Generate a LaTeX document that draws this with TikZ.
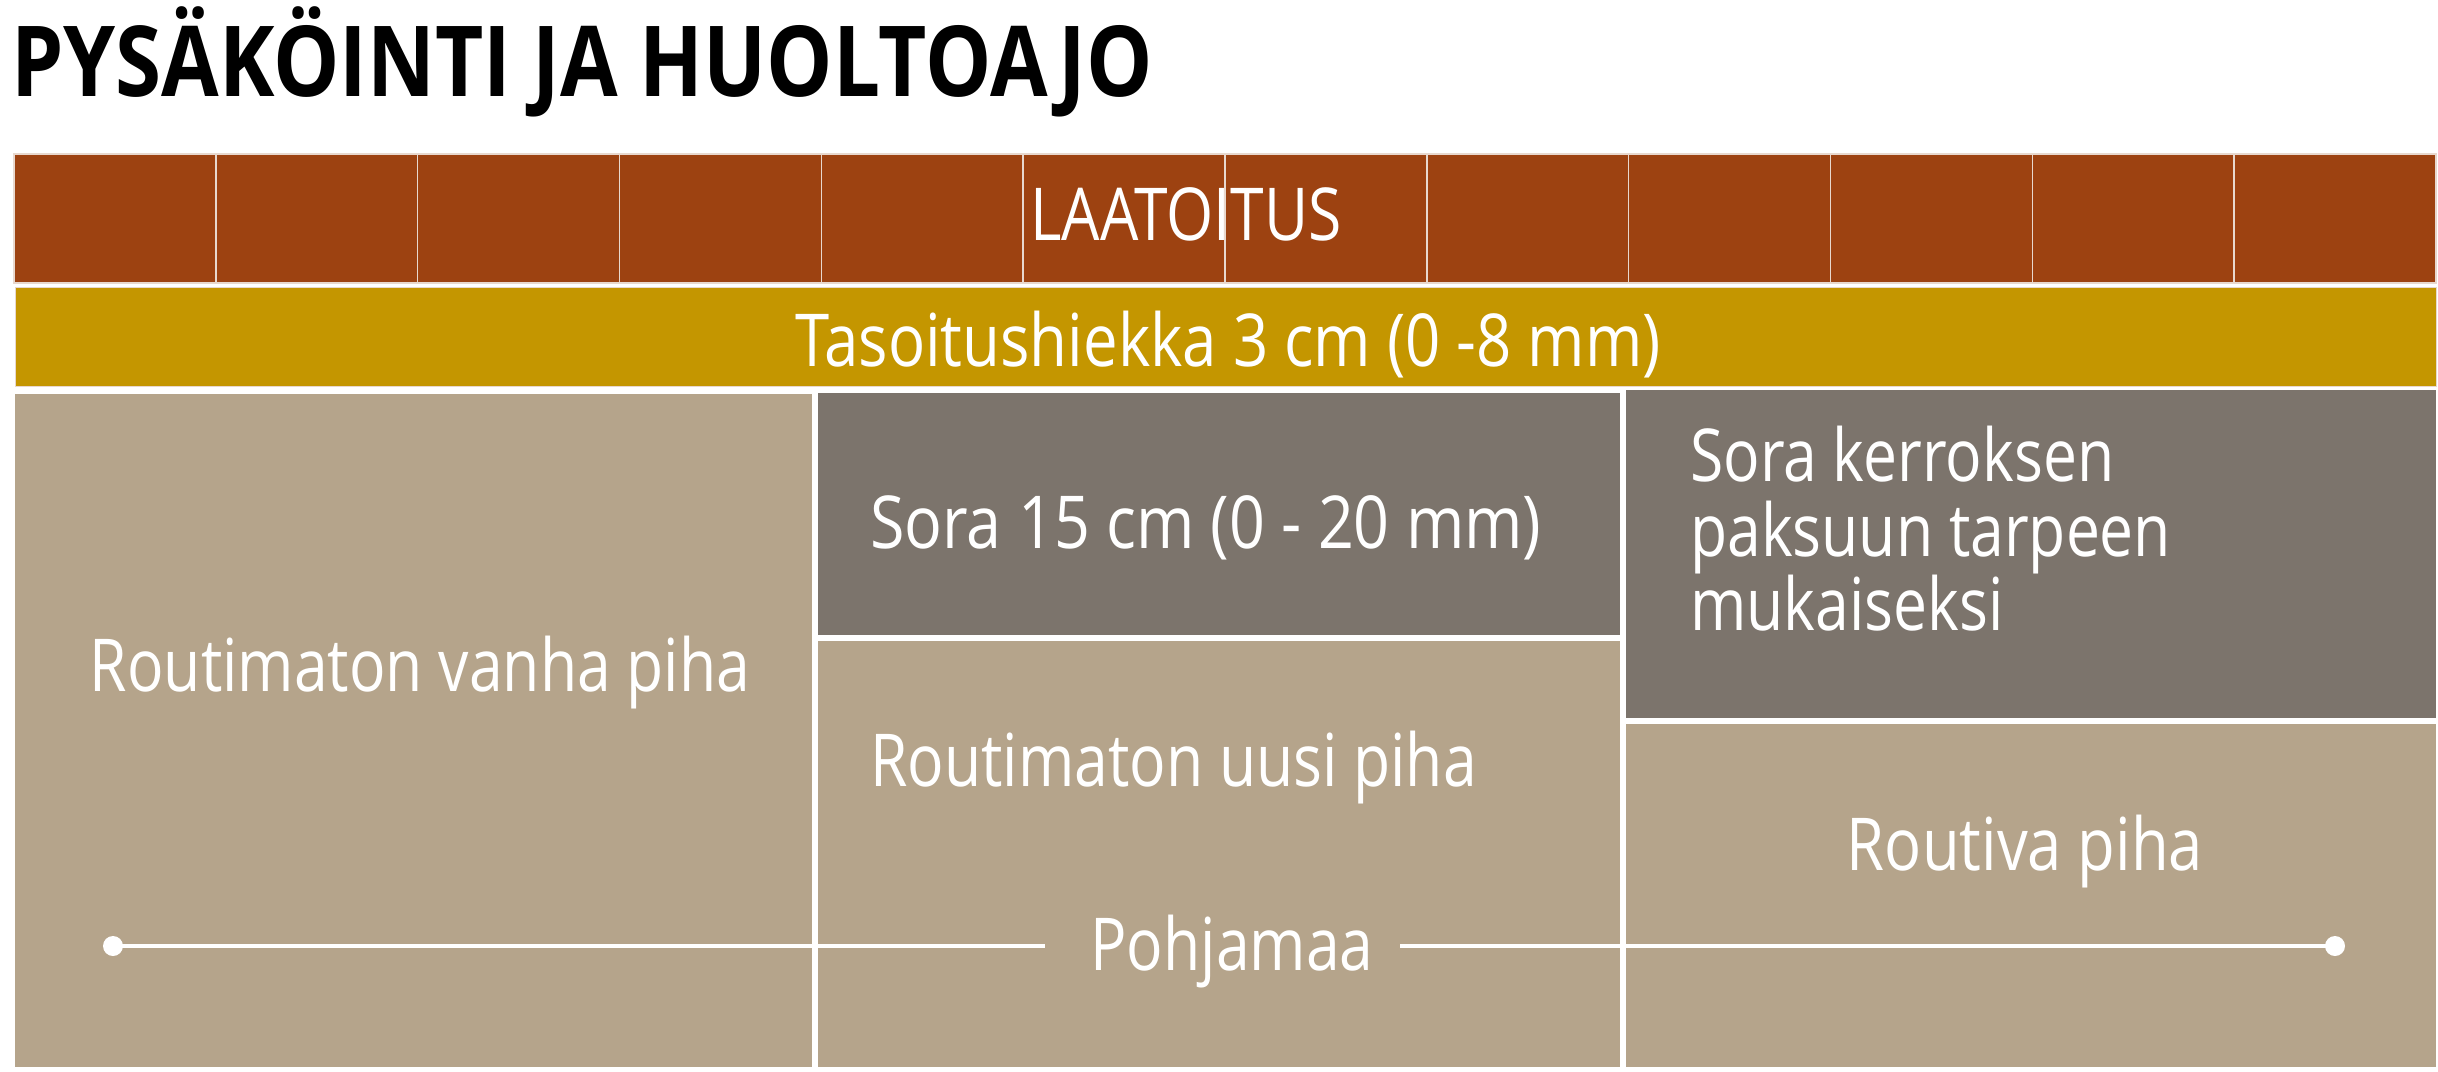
\documentclass[tikz,border=0pt]{standalone}
\usepackage{fontspec}
\setmainfont{Open Sans}[FakeStretch=0.83]
\newfontfamily\titlefont{Open Sans}[FakeStretch=0.852]
\definecolor{brick}{HTML}{9D4211}
\definecolor{sand}{HTML}{C49600}
\definecolor{stone}{HTML}{7C746C}
\definecolor{clay}{HTML}{B5A48B}
\definecolor{seam}{HTML}{E8D8CE}
\begin{document}
\begin{tikzpicture}[x=1pt,y=-1pt,
  lbl/.style={text=white,font=\fontsize{73}{75}\selectfont,inner sep=0pt},
  tile/.style={fill=brick,draw=seam,line width=1.5pt},
  ground/.style={draw=white,line width=3.5pt},
  dot/.style={circle,fill=white,inner sep=0pt,minimum size=20pt}]
\useasboundingbox[fill=white] (0,0) rectangle (2438,1071);
% title
\node[anchor=base west,inner sep=0pt,font=\fontsize{98}{100}\titlefont\bfseries] (title) at (11,96) {PYSÄKÖINTI JA HUOLTOAJO};
% tiles
\foreach \i in {0,...,11}{
  \path[tile] ({14+201.83*\i},154) rectangle ({14+201.83*(\i+1)},283);
}
\node[lbl,anchor=base] (laatoitus) at (1186,240) {LAATOITUS};
% levelling sand
\path[fill=sand,draw=seam,line width=1pt] (15.5,287) rectangle (2436,386.5);
\node[lbl,anchor=base] (sand) at (1228,366) {\scalebox{1.018}[1]{Tasoitushiekka 3 cm (0 -8 mm)}};
% lower blocks
\fill[clay] (15,394) rectangle (812.3,1067);
\fill[stone] (817.7,393) rectangle (1620.3,635);
\fill[clay] (817.7,640.7) rectangle (1620.3,1067);
\fill[stone] (1625.7,390) rectangle (2436,717.7);
\fill[clay] (1625.7,724.3) rectangle (2436,1067);
\node[lbl,anchor=base] (old) at (420,691) {Routimaton vanha piha};
\node[lbl,anchor=base west] (gravel) at (870,548) {\scalebox{1.036}[1]{Sora 15 cm (0 - 20 mm)}};
\node[lbl,anchor=base west] (new) at (870,786) {Routimaton uusi piha};
\node[lbl,anchor=base west] (g1) at (1690,481) {Sora kerroksen};
\node[lbl,anchor=base west] (g2) at (1690,556) {paksuun tarpeen};
\node[lbl,anchor=base west] (g3) at (1690,630) {mukaiseksi};
\node[lbl,anchor=base] (frost) at (2025,870) {\scalebox{1.015}[1]{Routiva piha}};
% subsoil line
\node[lbl,anchor=base] (subsoil) at (1232,970) {Pohjamaa};
\node[dot] (ldot) at (113,946) {};
\node[dot] (rdot) at (2335,946) {};
\coordinate (lend) at (1045,946);
\coordinate (rend) at (1400,946);
\draw[ground] (ldot.center) -- (lend);
\draw[ground] (rend) -- (rdot.center);
\end{tikzpicture}
\end{document}
